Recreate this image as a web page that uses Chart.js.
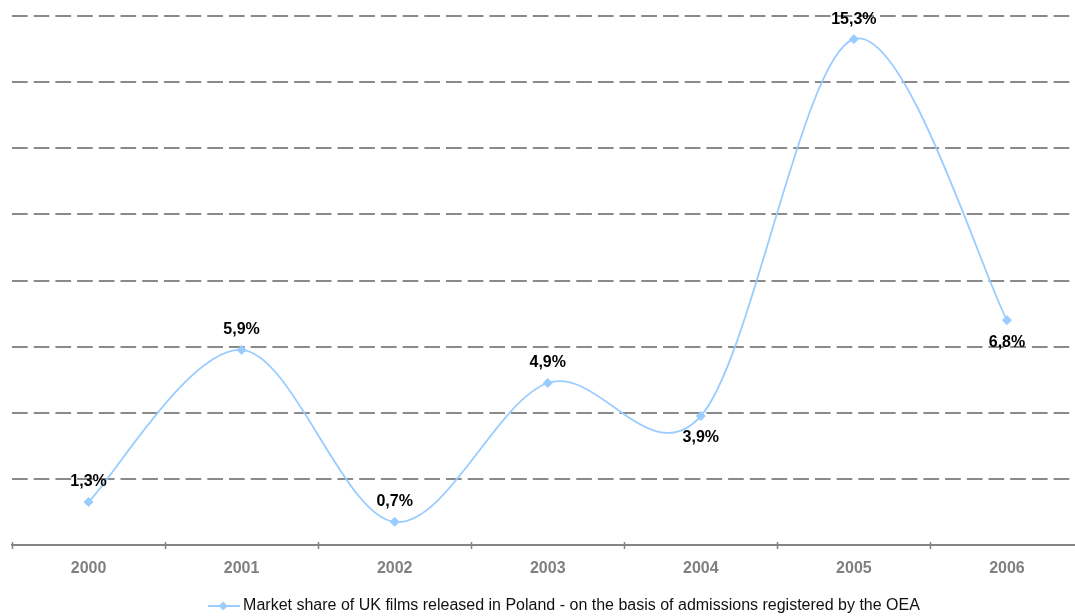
<!DOCTYPE html>
<html>
<head>
<meta charset="utf-8">
<title>Market share of UK films released in Poland</title>
<script src="https://cdn.jsdelivr.net/npm/chart.js@4.4.1/dist/chart.umd.min.js"></script>
<style>
  html, body { margin: 0; padding: 0; background: #fff; overflow: hidden; width: 1075px; height: 616px; }
  #wrap { position: absolute; left: 0; top: 0; width: 1089px; height: 616px; }
</style>
</head>
<body>
<div id="wrap"><canvas id="chart"></canvas></div>
<script>
// ---- data ----
const years = ['2000', '2001', '2002', '2003', '2004', '2005', '2006'];
const shareUK = [1.3, 5.9, 0.7, 4.9, 3.9, 15.3, 6.8];
const seriesName = 'Market share of UK films released in Poland - on the basis of admissions registered by the OEA';
const yMin = 0, yMax = 16, yStep = 2;
// where each value label sits relative to its point
const labelSide = ['above', 'above', 'above', 'above', 'below', 'above', 'below'];

// ---- style ----
const FONT = '"Liberation Sans", Arial, sans-serif';
const LINE_COLOR = '#99ccff';
const GRID_COLOR = '#8a8a8a';
const AXIS_COLOR = '#858585';
const LEGEND_FONT_SIZE = 16;
const PAD_LEFT = 12, PAD_RIGHT = 2, CANVAS_W = 1089;

const fmtPct = v => v.toFixed(1).replace('.', ',') + '%';

// legend marker: a short line with a diamond, as on the series
function legendMarker(boxW) {
  const gap = LEGEND_FONT_SIZE / 2;
  const c = document.createElement('canvas');
  const w = boxW + 2 * (gap - 3), h = 12;
  c.width = w; c.height = h;
  const g = c.getContext('2d');
  const off = gap - 3;                 // image starts this far left of the box
  const textStart = boxW + gap + off;  // text start in image coordinates
  const mid = h / 2;
  g.strokeStyle = LINE_COLOR; g.lineWidth = 2;
  g.beginPath(); g.moveTo(textStart - 35, mid); g.lineTo(textStart - 3, mid); g.stroke();
  const dx = textStart - 20, r = 4.5;
  g.fillStyle = LINE_COLOR;
  g.beginPath(); g.moveTo(dx, mid - r); g.lineTo(dx + r, mid); g.lineTo(dx, mid + r); g.lineTo(dx - r, mid); g.closePath(); g.fill();
  return c;
}

// width reserved for the marker so the legend text starts at x = 243
const measure = document.createElement('canvas').getContext('2d');
measure.font = LEGEND_FONT_SIZE + 'px ' + FONT;
const legendTextW = measure.measureText(seriesName).width;
const legendLeft = PAD_LEFT, legendRight = CANVAS_W - PAD_RIGHT;
const markerBoxW = Math.max(40, Math.round(2 * 243 - (legendLeft + legendRight) - LEGEND_FONT_SIZE / 2 + legendTextW));

// uniform Catmull-Rom smoothing: tangent at each point = (next - prev) / 6
const catmullRom = {
  id: 'catmullRom',
  beforeDatasetDraw(chart, args) {
    const meta = args.meta;
    const line = meta.dataset;
    if (!line) return;
    line.updateControlPoints(chart.chartArea, 'x');
    const pts = meta.data;
    const n = pts.length;
    for (let i = 0; i < n; i++) {
      const p = pts[i];
      const prev = pts[Math.max(i - 1, 0)];
      const next = pts[Math.min(i + 1, n - 1)];
      const tx = (next.x - prev.x) / 6, ty = (next.y - prev.y) / 6;
      p.cp1x = p.x - tx; p.cp1y = p.y - ty;
      p.cp2x = p.x + tx; p.cp2y = p.y + ty;
    }
    line._path = undefined;
  }
};

// value labels above / below the points
const valueLabels = {
  id: 'valueLabels',
  afterDatasetsDraw(chart) {
    const ctx = chart.ctx;
    const meta = chart.getDatasetMeta(0);
    ctx.save();
    ctx.font = 'bold 16px ' + FONT;
    ctx.fillStyle = '#000';
    ctx.textAlign = 'center';
    ctx.textBaseline = 'middle';
    meta.data.forEach((pt, i) => {
      const dy = labelSide[i] === 'below' ? 22 : -20;
      ctx.fillText(fmtPct(shareUK[i]), pt.x, pt.y + dy);
    });
    ctx.restore();
  }
};

// tick marks crossing the category axis at category boundaries
const axisTicks = {
  id: 'axisTicks',
  afterDraw(chart) {
    const x = chart.scales.x;
    const ctx = chart.ctx;
    const step = x.getPixelForValue(1) - x.getPixelForValue(0);
    const yAxis = chart.chartArea.bottom;
    ctx.save();
    ctx.strokeStyle = AXIS_COLOR;
    ctx.lineWidth = 1.5;
    ctx.beginPath();
    for (let i = 0; i <= years.length; i++) {
      const px = Math.round(x.getPixelForValue(i) - step / 2) + 0.5;
      ctx.moveTo(px, yAxis - 3);
      ctx.lineTo(px, yAxis + 4);
    }
    ctx.stroke();
    ctx.restore();
  }
};

new Chart(document.getElementById('chart'), {
  type: 'line',
  data: {
    labels: years,
    datasets: [{
      label: seriesName,
      data: shareUK,
      borderColor: LINE_COLOR,
      backgroundColor: LINE_COLOR,
      borderWidth: 1.8,
      tension: 0.4,
      fill: false,
      pointStyle: 'rectRot',
      pointRadius: 4.5,
      pointHoverRadius: 4.5,
      pointBackgroundColor: LINE_COLOR,
      pointBorderColor: LINE_COLOR,
      pointBorderWidth: 1
    }]
  },
  options: {
    responsive: true,
    maintainAspectRatio: false,
    animation: false,
    events: [],
    layout: { padding: { left: PAD_LEFT, right: PAD_RIGHT, top: 16, bottom: -8 } },
    scales: {
      x: {
        type: 'category',
        offset: true,
        grid: { display: true, drawOnChartArea: false, drawTicks: false, color: 'rgba(0,0,0,0)' },
        border: { display: true, color: AXIS_COLOR, width: 2 },
        ticks: {
          color: '#808080',
          font: { family: FONT, size: 16, weight: 'bold' },
          padding: 14,
          maxRotation: 0
        },
        afterFit(scale) { scale.height = 50; }
      },
      y: {
        min: yMin,
        max: yMax,
        ticks: { display: false, stepSize: yStep },
        grid: { color: GRID_COLOR, lineWidth: 2, drawTicks: false },
        border: { display: false, dash: [15.7, 6] },
        afterFit(scale) { scale.width = 0; }
      }
    },
    plugins: {
      legend: {
        position: 'bottom',
        labels: {
          color: '#111',
          font: { family: FONT, size: LEGEND_FONT_SIZE },
          usePointStyle: true,
          pointStyle: legendMarker(markerBoxW),
          pointStyleWidth: markerBoxW,
          padding: 3
        }
      },
      tooltip: { enabled: false }
    }
  },
  plugins: [catmullRom, valueLabels, axisTicks]
});
</script>
</body>
</html>
